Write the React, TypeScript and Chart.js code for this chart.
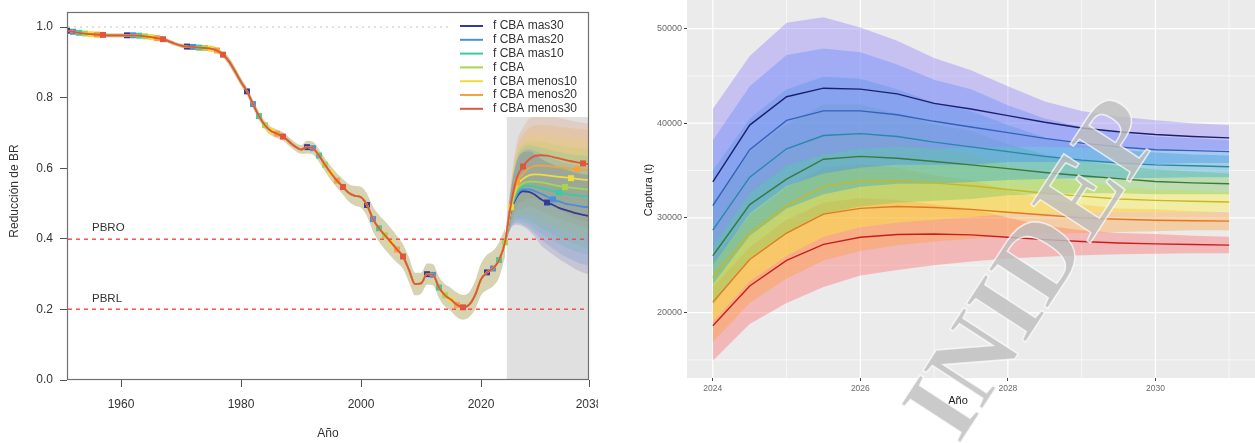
import React, { useEffect, useRef } from 'react';
import { Chart, registerables } from 'chart.js';

Chart.register(...registerables);

const FONT = "'Liberation Sans', Arial, Helvetica, sans-serif";
Chart.defaults.font.family = FONT;

const SCENARIOS = ['f CBA mas30', 'f CBA mas20', 'f CBA mas10', 'f CBA', 'f CBA menos10', 'f CBA menos20', 'f CBA menos30'];

// ---------------- LEFT PANEL: Reducción de BR ----------------
const HIST_START_YEAR = 1951;
const histRatio = [
  0.990, 0.987, 0.984, 0.982, 0.980, 0.979, 0.978, 0.977, 0.977, 0.977, // 1951-1960
  0.977, 0.977, 0.976, 0.974, 0.972, 0.969, 0.966, 0.960, 0.953, 0.948, // 1961-1970
  0.945, 0.944, 0.942, 0.941, 0.939, 0.934, 0.922, 0.903, 0.875, 0.845, // 1971-1980
  0.818, 0.782, 0.748, 0.722, 0.706, 0.698, 0.690, 0.676, 0.662, 0.653, // 1981-1990
  0.660, 0.657, 0.636, 0.610, 0.586, 0.565, 0.547, 0.530, 0.522, 0.518, // 1991-2000
  0.496, 0.456, 0.430, 0.410, 0.390, 0.370, 0.350, 0.312, 0.272, 0.274, // 2001-2010
  0.300, 0.298, 0.262, 0.240, 0.228, 0.213, 0.206, 0.213, 0.240, 0.285, // 2011-2020
  0.305, 0.316, 0.340, 0.390, // 2021-2024
];
const histHalfWidth = [
  0.006, 0.006, 0.006, 0.006, 0.006, 0.006, 0.006, 0.006, 0.006, 0.006,
  0.006, 0.006, 0.006, 0.006, 0.006, 0.006, 0.006, 0.006, 0.006, 0.006,
  0.008, 0.008, 0.008, 0.008, 0.008, 0.008, 0.008, 0.012, 0.012, 0.012,
  0.012, 0.012, 0.012, 0.012, 0.012, 0.012, 0.012, 0.012, 0.012, 0.012,
  0.018, 0.018, 0.018, 0.018, 0.02, 0.02, 0.022, 0.025, 0.028, 0.03,
  0.032, 0.035, 0.038, 0.04, 0.04, 0.038, 0.035, 0.035, 0.032, 0.03,
  0.03, 0.03, 0.03, 0.032, 0.033, 0.035, 0.035, 0.035, 0.04, 0.045,
  0.05, 0.05, 0.05, 0.04,
];
const projYears = [2024, 2025, 2026, 2027, 2028, 2029, 2030, 2031, 2032, 2033, 2034, 2035, 2036, 2037, 2038];
const projMas30 = [0.39, 0.48, 0.52, 0.535, 0.533, 0.525, 0.512, 0.503, 0.496, 0.488, 0.482, 0.477, 0.472, 0.468, 0.465];
const projMas20 = [0.39, 0.482, 0.525, 0.54, 0.54, 0.535, 0.528, 0.52, 0.512, 0.506, 0.5, 0.497, 0.494, 0.491, 0.49];
const projMas10 = [0.39, 0.485, 0.532, 0.548, 0.551, 0.548, 0.544, 0.54, 0.535, 0.531, 0.528, 0.525, 0.523, 0.521, 0.52];
const projCBA = [0.39, 0.487, 0.54, 0.557, 0.562, 0.562, 0.56, 0.557, 0.553, 0.55, 0.547, 0.545, 0.543, 0.541, 0.54];
const projMenos10 = [0.39, 0.49, 0.55, 0.57, 0.58, 0.583, 0.582, 0.58, 0.578, 0.576, 0.574, 0.572, 0.57, 0.568, 0.567];
const projMenos20 = [0.39, 0.495, 0.56, 0.585, 0.6, 0.607, 0.608, 0.607, 0.605, 0.603, 0.601, 0.599, 0.597, 0.596, 0.595];
const projMenos30 = [0.39, 0.5, 0.575, 0.605, 0.625, 0.635, 0.637, 0.636, 0.632, 0.628, 0.624, 0.62, 0.617, 0.614, 0.612];
const projUpperWidth = [0.01, 0.06, 0.1, 0.11, 0.115, 0.115, 0.115, 0.115, 0.115, 0.115, 0.115, 0.115, 0.115, 0.115, 0.115];
const projLowerWidth = [0.01, 0.05, 0.08, 0.1, 0.11, 0.12, 0.13, 0.135, 0.14, 0.145, 0.15, 0.155, 0.16, 0.163, 0.165];
const leftXTicks = [1960, 1980, 2000, 2020, 2038];
const leftYTicks = [0, 0.2, 0.4, 0.6, 0.8, 1.0];
const PBRO = 0.4;
const PBRL = 0.2;
const PROJ_SHADE_START = 2024.3;
const MARKER_FIRST = 1951;
const MARKER_STEP = 10;

// ---------------- RIGHT PANEL: Captura (t) ----------------
const capYears = [2024, 2024.5, 2025, 2025.5, 2026, 2026.5, 2027, 2027.5, 2028, 2028.5, 2029, 2029.5, 2030, 2030.5, 2031];
const capMas30 = [33800, 39800, 42800, 43700, 43600, 43100, 42100, 41500, 40800, 40100, 39500, 39100, 38800, 38600, 38450];
const capMas30Hi = [41500, 47100, 50600, 51200, 50100, 48700, 46900, 45600, 43900, 42300, 41300, 40700, 40300, 40000, 39800];
const capMas30Lo = [27000, 32600, 35500, 36700, 37300, 37500, 37300, 37400, 37500, 37500, 37400, 37300, 37200, 37200, 37200];
const capMas20 = [31300, 37200, 40300, 41300, 41300, 40900, 40200, 39600, 39000, 38400, 37900, 37500, 37200, 37100, 37000];
const capMas20Hi = [38200, 43900, 47200, 47900, 47500, 46200, 44600, 43600, 41900, 40500, 39600, 39000, 38600, 38400, 38200];
const capMas20Lo = [25000, 30500, 33400, 34700, 35300, 35600, 35600, 35600, 35900, 35900, 35900, 35800, 35700, 35800, 35800];
const capMas10 = [28700, 34300, 37300, 38700, 38900, 38600, 38000, 37500, 37000, 36500, 36100, 35800, 35600, 35500, 35400];
const capMas10Hi = [35000, 40500, 43600, 44900, 44700, 43600, 42200, 41300, 39800, 38500, 37700, 37200, 36900, 36700, 36600];
const capMas10Lo = [23000, 28100, 31000, 32500, 33300, 33600, 33600, 33800, 34000, 34100, 34200, 34200, 34200, 34300, 34300];
const capCBA = [26000, 31400, 34100, 36200, 36500, 36300, 35950, 35600, 35200, 34800, 34450, 34150, 33850, 33700, 33600];
const capCBAHi = [31700, 37100, 39900, 42000, 42000, 41000, 39900, 39200, 37800, 36700, 36000, 35500, 35100, 34900, 34700];
const capCBALo = [20800, 25700, 28300, 30400, 31200, 31600, 31800, 32000, 32400, 32500, 32600, 32600, 32500, 32500, 32500];
const capMenos10 = [23700, 28400, 31300, 33300, 33900, 33900, 33700, 33400, 33000, 32600, 32300, 32000, 31850, 31750, 31680];
const capMenos10Hi = [28900, 33500, 36600, 38600, 39000, 38300, 37400, 36700, 35500, 34400, 33800, 33300, 33000, 32900, 32700];
const capMenos10Lo = [19000, 23300, 26000, 28000, 29000, 29500, 29800, 30100, 30400, 30500, 30600, 30600, 30600, 30600, 30700];
const capMenos20 = [21100, 25600, 28400, 30400, 31000, 31200, 31100, 30900, 30600, 30300, 30000, 29850, 29750, 29700, 29660];
const capMenos20Hi = [25700, 30200, 33200, 35300, 35700, 35300, 34500, 34000, 32900, 32000, 31400, 31000, 30900, 30700, 30600];
const capMenos20Lo = [16900, 21000, 23600, 25500, 26500, 27100, 27500, 27800, 28200, 28300, 28400, 28500, 28600, 28700, 28700];
const capMenos30 = [18600, 22800, 25500, 27200, 27950, 28250, 28300, 28200, 27950, 27700, 27500, 27350, 27250, 27180, 27120];
const capMenos30Hi = [22700, 26900, 29800, 31600, 32100, 31900, 31400, 31000, 30000, 29200, 28700, 28400, 28300, 28100, 28000];
const capMenos30Lo = [14900, 18800, 21000, 22700, 23900, 24500, 25000, 25400, 25700, 25900, 26050, 26150, 26200, 26250, 26270];
const rightXTicks = [2024, 2026, 2028, 2030];
const rightXMinor = [2025, 2027, 2029, 2031];
const rightYTicks = [20000, 30000, 40000, 50000];
const rightYMinor = [15000, 25000, 35000, 45000];

// ---------------- styles ----------------
const LEFT_COLORS = ['#35399c', '#4b8fdc', '#3ccaa0', '#a6d64a', '#f2dc3a', '#f6a23a', '#e0563a'];
const LEFT_BAND = [
  'rgba(53,57,156,0.16)', 'rgba(75,143,220,0.18)', 'rgba(60,202,160,0.16)', 'rgba(166,214,74,0.16)',
  'rgba(242,220,58,0.17)', 'rgba(246,162,58,0.18)', 'rgba(224,120,58,0.17)',
];
const HIST_BAND = 'rgba(150,140,50,0.38)';
const REF_LINE = 'rgb(240,70,70)';
const RIGHT_LINES = ['#1c1f6e', '#3562b8', '#2a87a8', '#3a7a3a', '#c9b820', '#e07a20', '#c81e1e'];
const RIGHT_FILLS = [
  'rgba(150,135,250,0.42)', 'rgba(70,145,245,0.4)', 'rgba(50,170,210,0.4)', 'rgba(120,200,90,0.4)',
  'rgba(250,240,60,0.4)', 'rgba(255,160,60,0.4)', 'rgba(255,100,100,0.38)',
];

const pts = (xs: number[], ys: number[]) => xs.map((x, i) => ({ x, y: ys[i] }));

function buildLeft() {
  const histYears = histRatio.map((_, i) => HIST_START_YEAR + i);
  const proj = [projMas30, projMas20, projMas10, projCBA, projMenos10, projMenos20, projMenos30];
  const ds: any[] = [];
  const common = { pointRadius: 0, borderWidth: 0, tension: 0.4, cubicInterpolationMode: 'monotone' };
  ds.push({ ...common, data: pts(histYears, histRatio.map((v, i) => v - histHalfWidth[i])), fill: false, order: 20 });
  ds.push({ ...common, data: pts(histYears, histRatio.map((v, i) => v + histHalfWidth[i])), fill: '-1', backgroundColor: HIST_BAND, order: 20 });
  proj.forEach((s, k) => {
    ds.push({ ...common, data: pts(projYears, s.map((v, i) => v - projLowerWidth[i])), fill: false, order: 30 });
    ds.push({ ...common, data: pts(projYears, s.map((v, i) => v + projUpperWidth[i])), fill: '-1', backgroundColor: LEFT_BAND[k], order: 30 });
  });
  proj.forEach((s, k) => {
    const data = [...pts(histYears.slice(0, -1), histRatio.slice(0, -1)), ...pts(projYears, s)];
    ds.push({
      data,
      borderColor: LEFT_COLORS[k],
      backgroundColor: LEFT_COLORS[k],
      borderWidth: 1.8,
      fill: false,
      tension: 0.4,
      cubicInterpolationMode: 'monotone',
      pointStyle: 'rect',
      pointRadius: (c: any) => {
        const x = c.raw && c.raw.x;
        return x !== undefined && (x - MARKER_FIRST - k) % MARKER_STEP === 0 ? 4.2 : 0;
      },
      pointBorderWidth: 0,
      order: 6 - k,
    });
  });
  return ds;
}

function buildRight() {
  const med = [capMas30, capMas20, capMas10, capCBA, capMenos10, capMenos20, capMenos30];
  const hi = [capMas30Hi, capMas20Hi, capMas10Hi, capCBAHi, capMenos10Hi, capMenos20Hi, capMenos30Hi];
  const lo = [capMas30Lo, capMas20Lo, capMas10Lo, capCBALo, capMenos10Lo, capMenos20Lo, capMenos30Lo];
  const ds: any[] = [];
  med.forEach((_, k) => {
    ds.push({ data: pts(capYears, lo[k]), pointRadius: 0, borderWidth: 0, fill: false, order: 10 });
    ds.push({ data: pts(capYears, hi[k]), pointRadius: 0, borderWidth: 0, fill: '-1', backgroundColor: RIGHT_FILLS[k], order: 10 });
  });
  med.forEach((m, k) => {
    ds.push({ data: pts(capYears, m), pointRadius: 0, borderWidth: 1.4, borderColor: RIGHT_LINES[k], fill: false, order: 0 });
  });
  return ds;
}

const leftDecor = {
  id: 'leftDecor',
  beforeDatasetsDraw(chart: any) {
    const { ctx, chartArea: ca, scales } = chart;
    const x = scales.x;
    ctx.save();
    const gx = x.getPixelForValue(PROJ_SHADE_START);
    ctx.fillStyle = '#e0e0e0';
    ctx.fillRect(gx, ca.top, ca.right - gx, ca.bottom - ca.top);
    ctx.restore();
  },
  afterDatasetsDraw(chart: any) {
    const { ctx, chartArea: ca, scales } = chart;
    const y = scales.y;
    ctx.save();
    // dashed reference lines drawn as short filled segments (crisp red dashes)
    ctx.fillStyle = REF_LINE;
    [PBRO, PBRL].forEach((v) => {
      const py = Math.round(y.getPixelForValue(v));
      for (let px = ca.left + 1; px < ca.right - 1; px += 8) {
        ctx.fillRect(px, py - 0.5, Math.min(4, ca.right - 1 - px), 1.4);
      }
    });
    ctx.fillStyle = '#c4c4c4';
    const p1 = Math.round(y.getPixelForValue(1.0));
    for (let px = ca.left + 1; px < ca.right - 1; px += 6) {
      ctx.fillRect(px, p1 - 0.5, 2, 1);
    }
    ctx.fillStyle = '#333';
    ctx.font = `11.5px ${FONT}`;
    ctx.textAlign = 'left';
    ctx.textBaseline = 'middle';
    ctx.fillText('PBRO', 92, y.getPixelForValue(PBRO) - 11);
    ctx.fillText('PBRL', 92, y.getPixelForValue(PBRL) - 11);
    ctx.restore();
  },
  afterDraw(chart: any) {
    const { ctx, chartArea: ca } = chart;
    ctx.save();
    // legend
    ctx.fillStyle = '#ffffff';
    ctx.fillRect(452, ca.top + 1, ca.right - 453, 104);
    ctx.font = `12px ${FONT}`;
    ctx.textAlign = 'left';
    ctx.textBaseline = 'middle';
    SCENARIOS.forEach((name, k) => {
      const yy = 26 + k * 13.8;
      ctx.strokeStyle = LEFT_COLORS[k];
      ctx.lineWidth = 2;
      ctx.beginPath();
      ctx.moveTo(460, yy);
      ctx.lineTo(483, yy);
      ctx.stroke();
      ctx.fillStyle = '#333';
      ctx.fillText(name, 493, yy);
    });
    // frame
    ctx.strokeStyle = '#707070';
    ctx.lineWidth = 1.2;
    ctx.strokeRect(ca.left + 0.5, ca.top + 0.5, ca.right - ca.left - 1, ca.bottom - ca.top - 1);
    // titles
    ctx.fillStyle = '#333';
    ctx.font = `12px ${FONT}`;
    ctx.textAlign = 'center';
    ctx.textBaseline = 'middle';
    ctx.fillText('Año', 328, 434);
    ctx.translate(15, 191);
    ctx.rotate(-Math.PI / 2);
    ctx.fillText('Reducción de BR', 0, 0);
    ctx.restore();
  },
};

const rightDecor = {
  id: 'rightDecor',
  beforeDatasetsDraw(chart: any) {
    const { ctx, chartArea: ca, scales } = chart;
    const { x, y } = scales;
    ctx.save();
    ctx.fillStyle = '#ebebeb';
    ctx.fillRect(ca.left, ca.top, ca.right - ca.left, ca.bottom - ca.top);
    ctx.strokeStyle = '#ffffff';
    ctx.lineWidth = 0.6;
    rightXMinor.forEach((v) => {
      const px = x.getPixelForValue(v);
      ctx.beginPath(); ctx.moveTo(px, ca.top); ctx.lineTo(px, ca.bottom); ctx.stroke();
    });
    rightYMinor.forEach((v) => {
      const py = y.getPixelForValue(v);
      ctx.beginPath(); ctx.moveTo(ca.left, py); ctx.lineTo(ca.right, py); ctx.stroke();
    });
    ctx.lineWidth = 1.2;
    rightXTicks.forEach((v) => {
      const px = x.getPixelForValue(v);
      ctx.beginPath(); ctx.moveTo(px, ca.top); ctx.lineTo(px, ca.bottom); ctx.stroke();
    });
    rightYTicks.forEach((v) => {
      const py = y.getPixelForValue(v);
      ctx.beginPath(); ctx.moveTo(ca.left, py); ctx.lineTo(ca.right, py); ctx.stroke();
    });
    ctx.restore();
  },
  afterDraw(chart: any) {
    const { ctx } = chart;
    ctx.save();
    ctx.fillStyle = '#222';
    ctx.font = `11px ${FONT}`;
    ctx.textAlign = 'center';
    ctx.textBaseline = 'middle';
    ctx.fillText('Año', 348, 401);
    ctx.save();
    ctx.translate(39, 190);
    ctx.rotate(-Math.PI / 2);
    ctx.fillText('Captura (t)', 0, 0);
    ctx.restore();
    // watermark
    ctx.translate(428, 272);
    ctx.rotate((-57 * Math.PI) / 180);
    ctx.font = `bold 108px 'Liberation Serif', serif`;
    ctx.textAlign = 'center';
    ctx.textBaseline = 'middle';
    ctx.fillStyle = 'rgba(190,190,190,0.82)';
    ctx.fillText('INIDEP', 0, 0);
    ctx.lineWidth = 1.5;
    ctx.strokeStyle = 'rgba(255,255,255,0.7)';
    ctx.strokeText('INIDEP', 0, 0);
    ctx.restore();
  },
};

export default function App() {
  const leftRef = useRef<HTMLCanvasElement>(null);
  const rightRef = useRef<HTMLCanvasElement>(null);

  useEffect(() => {
    const left = new Chart(leftRef.current as HTMLCanvasElement, {
      type: 'line',
      data: { datasets: buildLeft() },
      plugins: [leftDecor],
      options: {
        animation: false,
        responsive: false,
        events: [],
        layout: { padding: { left: 0, right: 9, top: 12, bottom: 0 } },
        plugins: { legend: { display: false }, tooltip: { enabled: false } },
        scales: {
          x: {
            type: 'linear',
            min: 1951,
            max: 2038,
            afterBuildTicks: (s: any) => { s.ticks = leftXTicks.map((v) => ({ value: v })); },
            afterFit: (s: any) => { s.height = 63; s.paddingLeft = 0; s.paddingRight = 0; },
            grid: { drawOnChartArea: false, drawTicks: true, tickLength: 7, color: '#555', lineWidth: 1 },
            border: { display: false },
            ticks: { font: { family: FONT, size: 12 }, color: '#333', padding: 10, maxRotation: 0, autoSkip: false, callback: (v: any) => String(v) },
          },
          y: {
            type: 'linear',
            min: 0,
            max: 1.043,
            afterBuildTicks: (s: any) => { s.ticks = leftYTicks.map((v) => ({ value: v })); },
            afterFit: (s: any) => { s.width = 67; s.paddingTop = 0; s.paddingBottom = 0; },
            grid: { drawOnChartArea: false, drawTicks: true, tickLength: 7, color: '#555', lineWidth: 1 },
            border: { display: false },
            ticks: { font: { family: FONT, size: 12 }, color: '#333', padding: 7, callback: (v: any) => Number(v).toFixed(1) },
          },
        },
      } as any,
    });

    const right = new Chart(rightRef.current as HTMLCanvasElement, {
      type: 'line',
      data: { datasets: buildRight() },
      plugins: [rightDecor],
      options: {
        animation: false,
        responsive: false,
        events: [],
        layout: { padding: 0 },
        plugins: { legend: { display: false }, tooltip: { enabled: false } },
        scales: {
          x: {
            type: 'linear',
            min: 2023.65,
            max: 2031.35,
            afterBuildTicks: (s: any) => { s.ticks = rightXTicks.map((v) => ({ value: v })); },
            afterFit: (s: any) => { s.height = 65; s.paddingLeft = 0; s.paddingRight = 0; },
            grid: { drawOnChartArea: false, drawTicks: true, tickLength: 3, color: '#444', lineWidth: 1 },
            border: { display: false },
            ticks: { font: { family: FONT, size: 8.5 }, color: '#6a6a6a', padding: 3, maxRotation: 0, autoSkip: false, callback: (v: any) => String(v) },
          },
          y: {
            type: 'linear',
            min: 13085,
            max: 53015,
            afterBuildTicks: (s: any) => { s.ticks = rightYTicks.map((v) => ({ value: v })); },
            afterFit: (s: any) => { s.width = 77; s.paddingTop = 0; s.paddingBottom = 0; },
            grid: { drawOnChartArea: false, drawTicks: true, tickLength: 3, color: '#444', lineWidth: 1 },
            border: { display: false },
            ticks: { font: { family: FONT, size: 9 }, color: '#6a6a6a', padding: 2, callback: (v: any) => String(v) },
          },
        },
      } as any,
    });

    return () => {
      left.destroy();
      right.destroy();
    };
  }, []);

  return (
    <div style={{ position: 'fixed', left: 0, top: 0, width: 1255, height: 443, background: '#fff', overflow: 'hidden' }}>
      <canvas ref={leftRef} width={598} height={443} style={{ position: 'absolute', left: 0, top: 0, width: 598, height: 443 }} />
      <canvas ref={rightRef} width={645} height={443} style={{ position: 'absolute', left: 610, top: 0, width: 645, height: 443 }} />
    </div>
  );
}
